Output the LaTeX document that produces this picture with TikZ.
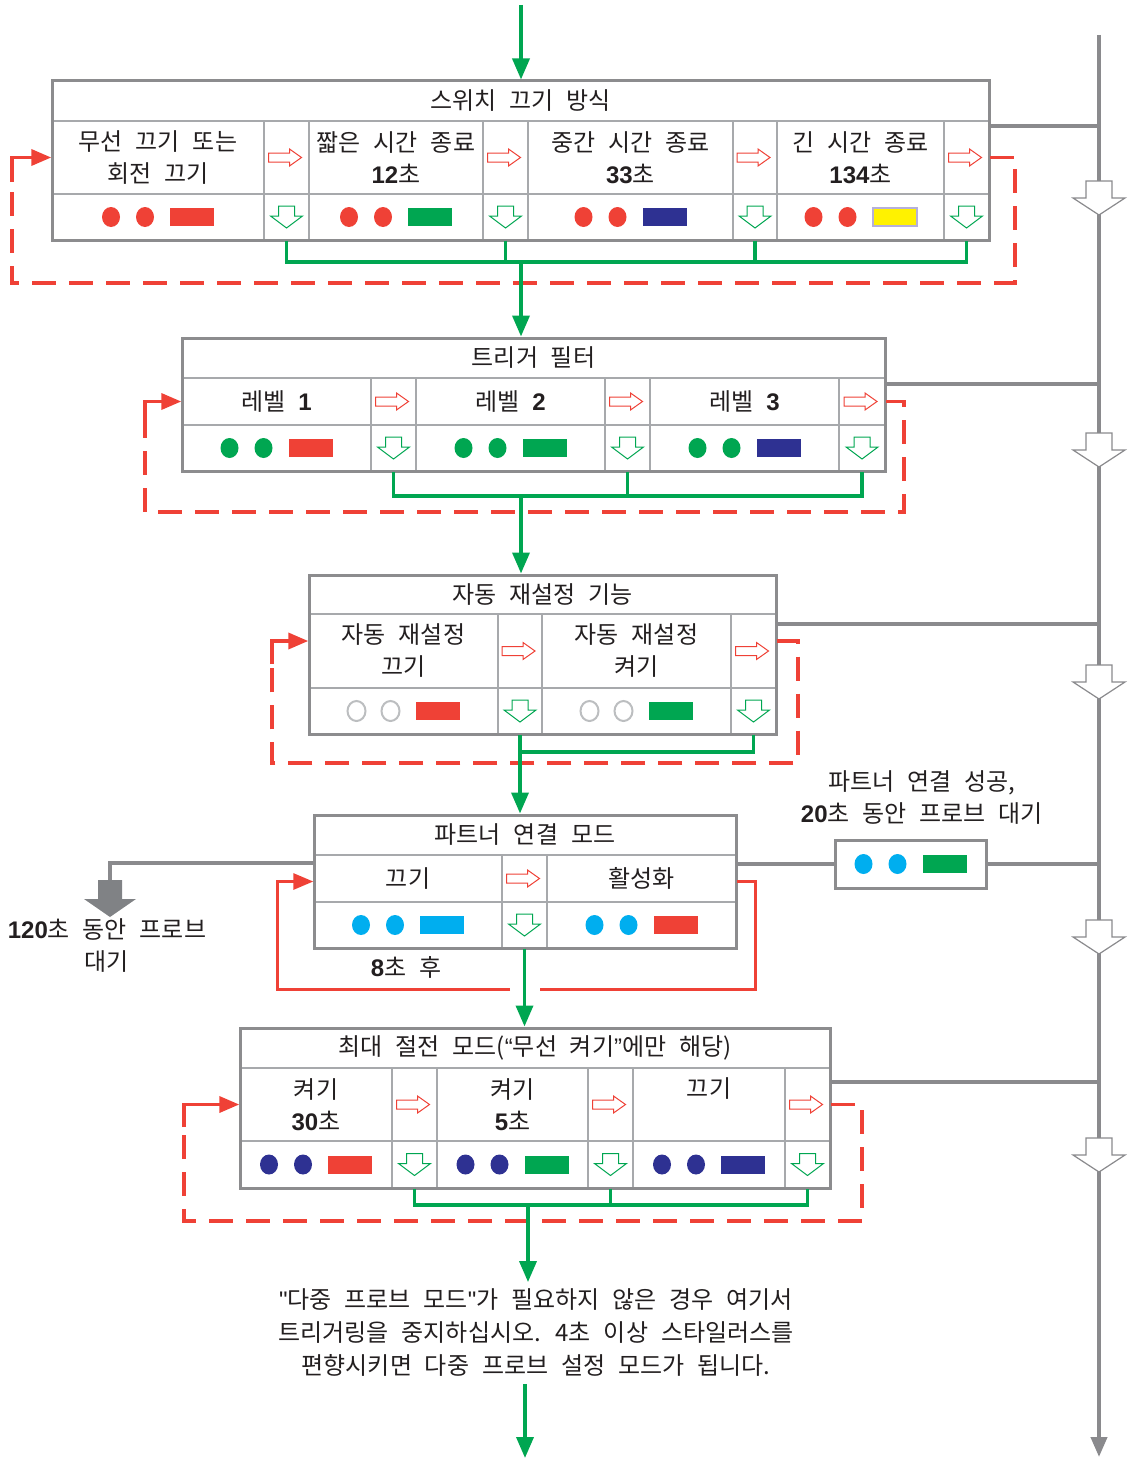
\documentclass[tikz,border=0pt]{standalone}
\usepackage{fontspec}
\setmainfont{Noto Sans CJK KR}[WordSpace=2.4]
\newfontfamily\latinfont{Liberation Sans}
\usepackage{tikz}
\usetikzlibrary{arrows.meta, calc}
\newcommand{\bnum}[1]{{\latinfont\bfseries #1}}
\definecolor{ink}{HTML}{231F20}
\definecolor{ledred}{HTML}{EF4136}
\definecolor{ledgreen}{HTML}{00A651}
\definecolor{lednavy}{HTML}{2E3192}
\definecolor{ledcyan}{HTML}{00AEEF}
\definecolor{ledyellow}{HTML}{FFF200}
\definecolor{ledlav}{HTML}{B5B0DA}
\definecolor{offgray}{HTML}{BCBEC0}
\definecolor{framegray}{HTML}{8C8C8E}
\definecolor{gridgray}{HTML}{A7A9AC}
\definecolor{railgray}{HTML}{8A8A8D}
\definecolor{arrowgray}{HTML}{808285}

\begin{document}
\begin{tikzpicture}[x=0.5pt, y=-0.5pt, every node/.style={font=\fontsize{12}{16}\selectfont, text=ink}]
%
% Five mode blocks stacked top to bottom, each one a little table:
%   title row / text cells with red "next" arrows / led cells with green "done" arrows
% red loop = step through the cells, green = leave the block, gray rail on the right
%
\tikzstyle{gridcell} = [rectangle, draw=gridgray, line width=0.7pt, inner sep=0pt, align=center]
\tikzstyle{blockframe} = [rectangle, draw=framegray, line width=1.5pt, inner sep=0pt]
\tikzstyle{flowline} = [draw=ledgreen, line width=1.8pt, -{Triangle[length=10.5pt, width=8.5pt]}]
\tikzstyle{feedline} = [draw=ledgreen, line width=1.6pt]
\tikzstyle{loopdash} = [draw=ledred, line width=1.8pt, dash pattern=on 12pt off 6.5pt]
\tikzstyle{looptip} = [draw=ledred, line width=1.8pt, -{Triangle[length=10pt, width=8pt]}]
\tikzstyle{loopline} = [draw=ledred, line width=1.5pt]
\tikzstyle{railline} = [draw=railgray, line width=2pt]
\tikzstyle{redhollow} = [draw=ledred, line width=0.5pt, fill=white]
\tikzstyle{greenhollow} = [draw=ledgreen, line width=0.5pt, fill=white]
\tikzstyle{railhollow} = [draw=railgray, line width=0.6pt, fill=white]
\tikzstyle{ledR} = [fill=ledred]
\tikzstyle{ledG} = [fill=ledgreen]
\tikzstyle{ledB} = [fill=lednavy]
\tikzstyle{ledC} = [fill=ledcyan]
\tikzstyle{ledY} = [fill=ledyellow, draw=ledlav, line width=1pt]
\tikzstyle{ledOff} = [draw=offgray, line width=1pt]
\useasboundingbox (0,0) rectangle (1128,1461);

% Rail on the right (drawn first, arrows sit on it)
\coordinate (rail_top) at (1099,35);
\coordinate (rail_bot) at (1099,1457);
\draw [railline, -{Triangle[length=10pt, width=8pt]}] (rail_top) -- (rail_bot);

% Block 1: switch-off method
\node (sw_title) [gridcell, minimum width=468.5pt, minimum height=20pt] at (520.5,101) {스위치 끄기 방식};
\foreach \i/\xl/\xr/\txt in {1/52/264/{무선 끄기 또는\\회전 끄기}, 2/309/483/{짧은 시간 종료\\\bnum{12}초}, 3/528/733/{중간 시간 종료\\\bnum{33}초}, 4/777/944/{긴 시간 종료\\\bnum{134}초}} {
  \node (sw_t\i) [gridcell, minimum width={(\xr-\xl)*0.5pt}, minimum height=36.5pt] at ({(\xl+\xr)/2},157.5) {\txt};
  \node (sw_s\i) [gridcell, minimum width={(\xr-\xl)*0.5pt}, minimum height=23pt] at ({(\xl+\xr)/2},217) {};
}
\foreach \i/\xl/\xr in {1/264/309, 2/483/528, 3/733/777, 4/944/989} {
  \node (sw_r\i) [gridcell, minimum width={(\xr-\xl)*0.5pt}, minimum height=36.5pt] at ({(\xl+\xr)/2},157.5) {};
  \node (sw_g\i) [gridcell, minimum width={(\xr-\xl)*0.5pt}, minimum height=23pt] at ({(\xl+\xr)/2},217) {};
}
\node (sw) [blockframe, minimum width=468.5pt, minimum height=79.5pt] at (520.5,160.5) {};

% Block 2: trigger filter
\node (tf_title) [gridcell, minimum width=351.5pt, minimum height=20pt] at (533.5,358) {트리거 필터};
\foreach \i/\xl/\xr in {1/182/371, 2/416/605, 3/650/839} {
  \node (tf_t\i) [gridcell, minimum width={(\xr-\xl)*0.5pt}, minimum height=23.5pt] at ({(\xl+\xr)/2},401.5) {레벨 \bnum{\i}};
  \node (tf_s\i) [gridcell, minimum width={(\xr-\xl)*0.5pt}, minimum height=23pt] at ({(\xl+\xr)/2},448) {};
}
\foreach \i/\xl/\xr in {1/371/416, 2/605/650, 3/839/885} {
  \node (tf_r\i) [gridcell, minimum width={(\xr-\xl)*0.5pt}, minimum height=23.5pt] at ({(\xl+\xr)/2},401.5) {};
  \node (tf_g\i) [gridcell, minimum width={(\xr-\xl)*0.5pt}, minimum height=23pt] at ({(\xl+\xr)/2},448) {};
}
\node (tf) [blockframe, minimum width=351.5pt, minimum height=66.5pt] at (533.5,404.5) {};

% Block 3: auto reset
\node (ar_title) [gridcell, minimum width=233.5pt, minimum height=19.5pt] at (542.5,594.5) {자동 재설정 기능};
\foreach \i/\xl/\xr/\txt in {1/309/498/{자동 재설정\\끄기}, 2/542/731/{자동 재설정\\켜기}} {
  \node (ar_t\i) [gridcell, minimum width={(\xr-\xl)*0.5pt}, minimum height=37pt] at ({(\xl+\xr)/2},651) {\txt};
  \node (ar_s\i) [gridcell, minimum width={(\xr-\xl)*0.5pt}, minimum height=23pt] at ({(\xl+\xr)/2},711) {};
}
\foreach \i/\xl/\xr in {1/498/542, 2/731/776} {
  \node (ar_r\i) [gridcell, minimum width={(\xr-\xl)*0.5pt}, minimum height=37pt] at ({(\xl+\xr)/2},651) {};
  \node (ar_g\i) [gridcell, minimum width={(\xr-\xl)*0.5pt}, minimum height=23pt] at ({(\xl+\xr)/2},711) {};
}
\node (ar) [blockframe, minimum width=233.5pt, minimum height=79.5pt] at (542.5,654.5) {};

% Block 4: partner mode
\node (pm_title) [gridcell, minimum width=211pt, minimum height=20pt] at (525,835) {파트너 연결 모드};
\foreach \i/\xl/\xr/\txt in {1/314/502/{끄기}, 2/547/736/{활성화}} {
  \node (pm_t\i) [gridcell, minimum width={(\xr-\xl)*0.5pt}, minimum height=23.5pt] at ({(\xl+\xr)/2},878.5) {\txt};
  \node (pm_s\i) [gridcell, minimum width={(\xr-\xl)*0.5pt}, minimum height=23pt] at ({(\xl+\xr)/2},925) {};
}
\node (pm_r1) [gridcell, minimum width=22.5pt, minimum height=23.5pt] at (524.5,878.5) {};
\node (pm_g1) [gridcell, minimum width=22.5pt, minimum height=23pt] at (524.5,925) {};
\node (pm) [blockframe, minimum width=211pt, minimum height=66.5pt] at (525,881.5) {};
\node (pm_ok) [blockframe, minimum width=75.5pt, minimum height=24pt] at (910.5,864) {};
\node (ok_lbl) [align=center] at (922,798) {파트너 연결 성공,\\\bnum{20}초 동안 프로브 대기};
\node (probe_lbl) [align=center] at (107,946) {\bnum{120}초 동안 프로브\\대기};
\node (delay_lbl) at (406,967) {\bnum{8}초 후};

% Block 5: max power saving
\node (hb_title) [gridcell, minimum width=295pt, minimum height=20pt] at (535,1048) {최대 절전 모드({\latinfont “}무선 켜기{\latinfont ”}에만 해당)};
\foreach \i/\xl/\xr/\txt in {1/240/392/{켜기\\\bnum{30}초}, 2/437/588/{켜기\\\bnum{5}초}, 3/633/785/{끄기\\\phantom{켜기}}} {
  \node (hb_t\i) [gridcell, minimum width={(\xr-\xl)*0.5pt}, minimum height=36.5pt] at ({(\xl+\xr)/2},1104.5) {\txt};
  \node (hb_s\i) [gridcell, minimum width={(\xr-\xl)*0.5pt}, minimum height=23.5pt] at ({(\xl+\xr)/2},1164.5) {};
}
\foreach \i/\xl/\xr in {1/392/437, 2/588/633, 3/785/830} {
  \node (hb_r\i) [gridcell, minimum width={(\xr-\xl)*0.5pt}, minimum height=36.5pt] at ({(\xl+\xr)/2},1104.5) {};
  \node (hb_g\i) [gridcell, minimum width={(\xr-\xl)*0.5pt}, minimum height=23.5pt] at ({(\xl+\xr)/2},1164.5) {};
}
\node (hb) [blockframe, minimum width=295pt, minimum height=80pt] at (535,1108) {};

\node (note) [align=center, font=\fontsize{12}{16.5}\selectfont] at (536,1333) {{\latinfont"}다중 프로브 모드{\latinfont"}가 필요하지 않은 경우 여기서\\트리거링을 중지하십시오. 4초 이상 스타일러스를\\편향시키면 다중 프로브 설정 모드가 됩니다.};

% LEDs: two dots and a bar in every status cell
\foreach \c/\d/\b in {sw_s1/ledR/ledR, sw_s2/ledR/ledG, sw_s3/ledR/ledB, sw_s4/ledR/ledY, tf_s1/ledG/ledR, tf_s2/ledG/ledG, tf_s3/ledG/ledB, ar_s1/ledOff/ledR, ar_s2/ledOff/ledG, pm_s1/ledC/ledC, pm_s2/ledC/ledR, pm_ok/ledC/ledG, hb_s1/ledB/ledR, hb_s2/ledB/ledG, hb_s3/ledB/ledB} {
  \path [\d] ([xshift=-23.5pt]\c.center) circle [x radius=4.5pt, y radius=5pt];
  \path [\d] ([xshift=-6.5pt]\c.center) circle [x radius=4.5pt, y radius=5pt];
  \path [\b] ([xshift=6pt, yshift=4.5pt]\c.center) rectangle ([xshift=28pt, yshift=-4.5pt]\c.center);
}
% hollow arrows in the small cells
\foreach \c in {sw_r1, sw_r2, sw_r3, sw_r4, tf_r1, tf_r2, tf_r3, ar_r1, ar_r2, pm_r1, hb_r1, hb_r2, hb_r3}
  \draw [redhollow, shift={(\c.center)}] (-18,-4.5) -- (3,-4.5) -- (3,-8.5) -- (15,0) -- (3,8.5) -- (3,4.5) -- (-18,4.5) -- cycle;
\foreach \c in {sw_g1, sw_g2, sw_g3, sw_g4, tf_g1, tf_g2, tf_g3, ar_g1, ar_g2, pm_g1, hb_g1, hb_g2, hb_g3}
  \draw [greenhollow, shift={(\c.center)}] (-8,-11) -- (8,-11) -- (8,-1) -- (16,-1) -- (0,11) -- (-16,-1) -- (-8,-1) -- cycle;

% Arrows
% red loops back to the first cell (dashed, last bit solid into the arrow tip)
\coordinate (sw_loopR) at (1015,283);
\coordinate (sw_loopL) at (12,283);
\coordinate (sw_turn) at (12,182);
\draw [loopdash] (sw_r4.east) -| (sw_loopR) -- (sw_loopL) -- (sw_turn);
\draw [looptip] (sw_turn) |- (sw_t1.west);
\coordinate (tf_loopR) at (904,512);
\coordinate (tf_loopL) at (145,512);
\coordinate (tf_turn) at (145,424);
\draw [loopdash] (tf_r3.east) -| (tf_loopR) -- (tf_loopL) -- (tf_turn);
\draw [looptip] (tf_turn) |- (tf_t1.west);
\coordinate (ar_loopR) at (798,763);
\coordinate (ar_loopL) at (272,763);
\coordinate (ar_turn) at (272,664);
\draw [loopdash] ([yshift=5pt]ar_r2.east) -| (ar_loopR) -- (ar_loopL) -- (ar_turn);
\draw [looptip] (ar_turn) |- ([yshift=5pt]ar_t1.west);
\coordinate (pm_loopR) at (755,989);
\coordinate (pm_gapR) at (540,989);
\coordinate (pm_gapL) at (510,989);
\coordinate (pm_loopL) at (277,989);
\draw [loopline] ([yshift=-1.5pt]pm_t2.east) -| (pm_loopR) -- (pm_gapR);
\draw [loopline, -{Triangle[length=10pt, width=8pt]}] (pm_gapL) -- (pm_loopL) |- ([yshift=-1.5pt]pm_t1.west);
\coordinate (hb_loopR) at (862,1221);
\coordinate (hb_loopL) at (184,1221);
\coordinate (hb_turn) at (184,1127);
\draw [loopdash] (hb_r3.east) -| (hb_loopR) -- (hb_loopL) -- (hb_turn);
\draw [looptip] (hb_turn) |- (hb_t1.west);

% green: leave the block, on to the next one
\coordinate (entry) at (521,5);
\draw [flowline] (entry) -- (entry |- sw.north);
\coordinate (sw_bar) at (521,262);
\draw [feedline] (sw_g1.south) |- (sw_bar) -| (sw_g4.south);
\draw [feedline] (sw_g2.south) -- (sw_g2.south |- sw_bar);
\draw [feedline] (sw_g3.south) -- (sw_g3.south |- sw_bar);
\draw [flowline] (sw_bar) -- (sw_bar |- tf.north);
\coordinate (tf_bar) at (521,496);
\draw [feedline] (tf_g1.south) |- (tf_bar) -| (tf_g3.south);
\draw [feedline] (tf_g2.south) -- (tf_g2.south |- tf_bar);
\draw [flowline] (tf_bar) -- (tf_bar |- ar.north);
\coordinate (ar_bar) at (520,752);
\draw [feedline] (ar_g2.south) |- (ar_bar);
\draw [flowline] (ar_g1.south) -- (ar_g1.south |- pm.north);
\draw [flowline] (pm_g1.south) -- (pm_g1.south |- hb.north);
\coordinate (hb_bar) at (528,1205);
\draw [feedline] (hb_g1.south) |- (hb_bar) -| (hb_g3.south);
\draw [feedline] (hb_g2.south) -- (hb_g2.south |- hb_bar);
\draw [flowline] (hb_bar) -- (hb_bar |- note.north);
\coordinate (exit) at (525,1458);
\draw [flowline] (note.south -| exit) -- (exit);

% gray: branches to the rail
\coordinate (sw_out) at ([yshift=-2pt]sw_title.south east);
\draw [railline] (sw_out) -- (sw_out -| rail_top);
\coordinate (tf_out) at ([yshift=-2.5pt]tf_title.south east);
\draw [railline] (tf_out) -- (tf_out -| rail_top);
\coordinate (ar_out) at ([yshift=-4.5pt]ar_title.south east);
\draw [railline] (ar_out) -- (ar_out -| rail_top);
\coordinate (pm_out) at ([yshift=-4pt]pm_title.south east);
\draw [railline] (pm_out) -- (pm_out -| pm_ok.west);
\draw [railline] (pm_ok.east) -- (pm_ok.east -| rail_top);
\coordinate (hb_out) at ([yshift=-6.5pt]hb_title.south east);
\draw [railline] (hb_out) -- (hb_out -| rail_top);
\coordinate (pm_wait) at ([yshift=-3.5pt]pm_title.south west);
\coordinate (pa) at (110,880);
\draw [railline] (pm_wait) -| (pa);
\fill [arrowgray, shift={(pa)}] (-12,0) -- (12,0) -- (12,19) -- (26,19) -- (0,37) -- (-26,19) -- (-12,19) -- cycle;
\foreach \y in {181,433,665,920,1138}
  \draw [railhollow, shift={(1099,\y)}] (-13,0) -- (13,0) -- (13,17) -- (26,17) -- (0,34) -- (-26,17) -- (-13,17) -- cycle;
\end{tikzpicture}
\end{document}
